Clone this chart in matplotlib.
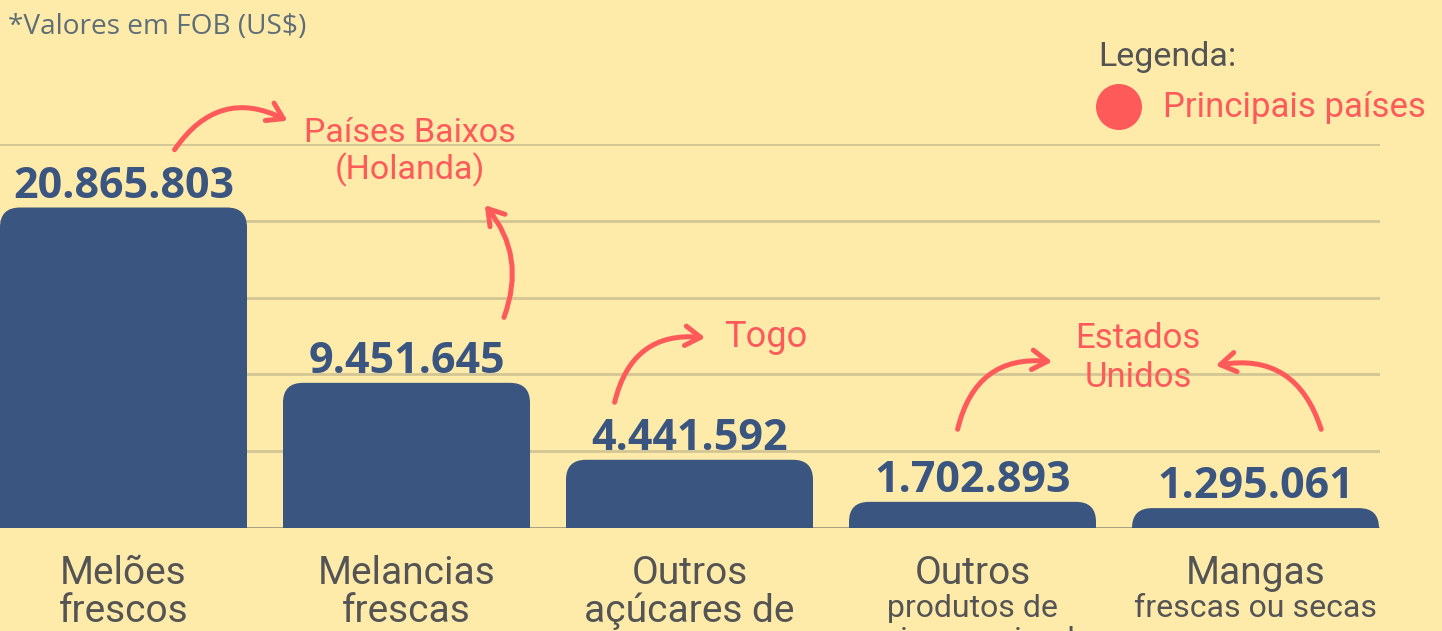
import matplotlib
matplotlib.use("Agg")
import matplotlib.pyplot as plt
from matplotlib.patches import FancyBboxPatch, FancyArrowPatch, Ellipse

categorias = ["Melões", "Melancias", "Outros", "Outros", "Mangas"]
subtitulos = [["frescos"], ["frescas"], ["açúcares de", "cana"],
              ["produtos de", "origem animal"], ["frescas ou secas"]]
valores = [20865803, 9451645, 4441592, 1702893, 1295061]
rotulos = ["20.865.803", "9.451.645", "4.441.592", "1.702.893", "1.295.061"]
paises = ["Países Baixos\n(Holanda)", "Togo", "Estados\nUnidos"]

FUNDO = "#FEEBAA"
AZUL = "#3A5580"
VERMELHO = "#FF5A5A"
CINZA = "#545454"
GRADE = "#D3C594"

W, H = 1442, 631
fig = plt.figure(figsize=(W / 100, H / 100), dpi=100, facecolor=FUNDO)

# eixo: 0..1380 px em x, base em y=528 px, topo (25M) em y=144 px
ax = fig.add_axes([0, (H - 528) / H, 1380 / W, 384 / H])
ax.set_facecolor(FUNDO)
px_x = 283.0
x0 = -123.5 / px_x
ax.set_xlim(x0, x0 + 1380 / px_x)
ax.set_ylim(0, 25)
for s in ax.spines.values():
    s.set_visible(False)
ax.set_xticks([])
ax.set_yticks([5, 10, 15, 20, 25])
ax.tick_params(left=False, labelleft=False)
ax.grid(axis="y", color=GRADE, linewidth=2)
ax.axhline(0, color="#9E9A80", linewidth=2, zorder=1)
ax.set_axisbelow(True)

largura = 247 / px_x
px_y = 384 / 25.0
raio = 20.0
rx = raio / px_x
ry = raio / px_y
for i, v in enumerate(valores):
    vm = v / 1e6
    box = FancyBboxPatch((i - largura / 2, -ry), largura, vm + ry,
                         boxstyle=f"round,pad=0,rounding_size={rx}",
                         mutation_aspect=ry / rx,
                         facecolor=AZUL, edgecolor="none", zorder=3)
    ax.add_patch(box)
    ax.text(i, vm, rotulos[i], ha="center", va="bottom",
            fontsize=31, fontweight="bold", family="Open Sans", color=AZUL, zorder=4)
    ax.text(i, -56 / px_y, categorias[i], ha="center", va="baseline",
            fontsize=28, family="Roboto", color=CINZA, clip_on=False)
    if i < 3:
        fs, base, passo = 28, 94, 37
    else:
        fs, base, passo = 23, 89, 32
    for k, linha in enumerate(subtitulos[i]):
        ax.text(i, -(base + k * passo) / px_y, linha, ha="center", va="baseline",
                fontsize=fs, family="Roboto", color=CINZA, clip_on=False)


def pf(x, y):
    return (x / W, 1 - y / H)


fig.text(*pf(8, 27), "*Valores em FOB (US$)", ha="left", va="center",
         fontsize=20.2, family="Open Sans", color="#5E6E78")
fig.text(*pf(1098, 57), "Legenda:", ha="left", va="center",
         fontsize=24.5, family="Roboto", color=CINZA)
fig.patches.append(Ellipse(pf(1119, 107), 46 / W, 46 / H, transform=fig.transFigure,
                           facecolor=VERMELHO, edgecolor="none"))
fig.text(*pf(1163, 107), "Principais países", ha="left", va="center",
         fontsize=25, family="Roboto", color=VERMELHO)

fig.text(*pf(410, 152), paises[0], ha="center", va="center", fontsize=24.5,
         family="Roboto", color=VERMELHO, linespacing=1.15)
fig.text(*pf(724, 337), paises[1], ha="left", va="center", fontsize=26,
         family="Roboto", color=VERMELHO)
fig.text(*pf(1138, 358), paises[2], ha="center", va="center", fontsize=25,
         family="Roboto", color=VERMELHO, linespacing=1.2)

setas = [((173, 152), (290, 122), -0.45),
         ((503, 320), (483, 203), 0.3),
         ((614, 405), (708, 338), -0.45),
         ((957, 432), (1055, 362), -0.45),
         ((1322, 432), (1213, 366), 0.45)]
for a, b, rad in setas:
    seta = FancyArrowPatch(pf(*a), pf(*b), transform=fig.transFigure,
                           connectionstyle=f"arc3,rad={rad}",
                           arrowstyle="->,head_length=11,head_width=7",
                           color=VERMELHO, linewidth=3.6,
                           capstyle="round", joinstyle="round")
    fig.patches.append(seta)

fig.savefig("out.png", dpi=100, facecolor=FUNDO)
